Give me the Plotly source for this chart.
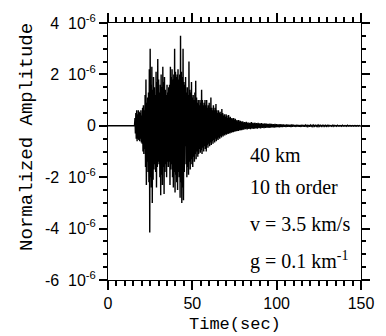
import plotly.graph_objects as go

# Amplitudes in units of 1e-6, sampled every 0.5 s from 16.0 s to 79.5 s
onset_time = 15.7
t_start = 16.0
upper = [0.3,0.5,0.6,0.45,0.6,0.55,0.5,0.6,0.4,0.7,0.8,0.6,1.2,1.8,0.9,1.1,1.3,2.2,3.0,1.6,
         2.3,1.4,1.9,1.5,1.2,2.1,1.7,2.6,1.8,1.3,1.6,2.0,1.5,2.3,1.7,1.9,1.4,1.2,1.6,1.3,
         1.5,1.6,2.3,1.9,2.2,1.8,2.0,3.0,2.1,1.9,2.0,2.2,1.8,2.0,3.5,2.1,1.9,3.0,1.7,1.6,
         1.9,1.3,1.5,1.2,2.5,1.4,1.3,1.7,1.1,1.2,1.0,1.3,1.75,1.1,0.9,1.0,0.8,1.0,0.9,1.4,
         1.0,0.8,0.9,1.0,0.8,1.0,0.7,0.8,0.9,0.7,1.1,0.7,0.6,0.8,0.6,0.7,0.85,0.6,0.5,0.6,
         0.5,0.55,0.45,0.65,0.5,0.4,0.45,0.35,0.45,0.4,0.3,0.42,0.3,0.35,0.28,0.3,0.25,0.3,0.22,0.27,
         0.2,0.22,0.18,0.22,0.17,0.2,0.15,0.18]
lower = [-0.3,-0.5,-0.6,-0.5,-0.55,-0.6,-0.5,-0.65,-0.7,-1.0,-1.1,-0.9,-1.6,-2.3,-1.4,-1.8,-2.2,-4.15,-2.0,-2.4,
         -3.0,-2.1,-1.7,-1.5,-1.8,-2.4,-1.6,-1.4,-1.5,-2.0,-2.7,-1.9,-2.3,-1.6,-2.65,-1.8,-1.5,-2.0,-1.4,-1.6,
         -1.4,-2.3,-1.7,-1.5,-2.0,-2.4,-1.8,-2.6,-1.9,-2.2,-2.5,-1.8,-2.0,-2.8,-2.2,-3.0,-2.4,-2.9,-1.8,-0.8,
         -1.5,-2.0,-1.6,-1.9,-1.4,-1.7,-1.3,-1.5,-1.6,-1.2,-1.4,-1.1,-1.3,-1.0,-1.2,-1.1,-0.9,-1.05,-0.95,-1.1,
         -0.85,-1.0,-0.8,-0.9,-1.0,-0.75,-0.85,-0.7,-0.8,-0.65,-0.75,-0.6,-0.7,-0.55,-0.65,-0.5,-0.6,-0.5,-0.55,-0.45,
         -0.5,-0.4,-0.45,-0.38,-0.42,-0.35,-0.38,-0.32,-0.35,-0.3,-0.32,-0.28,-0.3,-0.26,-0.27,-0.24,-0.25,-0.22,-0.23,-0.2,
         -0.21,-0.19,-0.2,-0.17,-0.18,-0.16,-0.17,-0.15]

# Coda, sampled every 1 s from 80 s to 149 s
tail_start = 80.0
tail_upper = [0.16,0.14,0.15,0.13,0.12,0.14,0.11,0.12,0.10,0.11,
              0.09,0.10,0.08,0.09,0.08,0.07,0.08,0.07,0.06,0.07,
              0.06,0.05,0.06,0.05,0.05,0.04,0.05,0.04,0.04,0.05,
              0.04,0.03,0.04,0.03,0.03,0.04,0.03,0.03,0.02,0.03,
              0.03,0.02,0.03,0.02,0.02,0.03,0.02,0.02,0.02,0.02,
              0.02,0.02,0.01,0.02,0.02,0.01,0.02,0.01,0.01,0.02,
              0.01,0.01,0.02,0.01,0.01,0.01,0.01,0.01,0.01,0.01]
tail_lower = [-0.15,-0.13,-0.14,-0.12,-0.13,-0.11,-0.12,-0.10,-0.11,-0.09,
              -0.10,-0.08,-0.09,-0.08,-0.07,-0.08,-0.07,-0.06,-0.07,-0.06,
              -0.05,-0.06,-0.05,-0.05,-0.04,-0.05,-0.04,-0.04,-0.05,-0.04,
              -0.03,-0.04,-0.03,-0.03,-0.04,-0.03,-0.03,-0.02,-0.03,-0.03,
              -0.02,-0.03,-0.02,-0.02,-0.03,-0.02,-0.02,-0.02,-0.02,-0.02,
              -0.02,-0.01,-0.02,-0.02,-0.01,-0.02,-0.01,-0.01,-0.02,-0.01,
              -0.01,-0.02,-0.01,-0.01,-0.01,-0.01,-0.01,-0.01,-0.01,-0.01]

NB = "\u00a0\u00a0"
ytick_vals = [4, 2, 0, -2, -4, -6]
ytick_text = ["4" + NB + "10<sup>-6</sup>", "2" + NB + "10<sup>-6</sup>", "0",
              "-2" + NB + "10<sup>-6</sup>", "-4" + NB + "10<sup>-6</sup>",
              "-6" + NB + "10<sup>-6</sup>"]
xtick_vals = [0, 50, 100, 150]
labels = ["40 km", "10 th order", "v = 3.5 km/s", "g = 0.1 km<sup>-1</sup>"]
label_y = [-1.12, -2.38, -3.81, -5.23]
x_title = "Time(sec)"
y_title = "Normalized Amplitude"

xs, ys = [0.0, onset_time], [0.0, 0.0]
for i, (u, l) in enumerate(zip(upper, lower)):
    t = t_start + 0.5 * i
    xs += [t, t + 0.25]
    ys += [u, l]
for i, (u, l) in enumerate(zip(tail_upper, tail_lower)):
    t = tail_start + 1.0 * i
    xs += [t, t + 0.5]
    ys += [u, l]
xs.append(150.0)
ys.append(0.0)

fig = go.Figure()
fig.add_trace(go.Scatter(x=xs, y=ys, mode="lines",
                         line=dict(color="black", width=1.4), hoverinfo="skip"))

for txt, yy in zip(labels, label_y):
    fig.add_annotation(x=83.1, y=yy, xref="x", yref="y", text=txt, showarrow=False,
                       xanchor="left", yanchor="middle",
                       font=dict(family="Liberation Serif", size=20, color="black"))

fig.add_annotation(x=-0.323, y=0.558, xref="paper", yref="paper", text=y_title,
                   showarrow=False, textangle=-90, xanchor="center", yanchor="middle",
                   font=dict(family="Liberation Mono", size=19, color="black"))
fig.add_annotation(x=0.5, y=-0.173, xref="paper", yref="paper", text=x_title,
                   showarrow=False, xanchor="center", yanchor="middle",
                   font=dict(family="Liberation Mono", size=17, color="black"))

axis_common = dict(showline=True, linecolor="black", linewidth=1, mirror="ticks",
                   ticks="outside", tickcolor="black", showgrid=False,
                   zeroline=False)

fig.update_xaxes(range=[0, 150], tickvals=xtick_vals, ticklen=9, tickwidth=1.5,
                 minor=dict(dtick=5, ticklen=5, ticks="outside", tickcolor="black",
                            tickwidth=1.5),
                 tickfont=dict(family="Liberation Sans", size=16, color="black"),
                 **axis_common)
fig.update_yaxes(range=[-6, 4], tickvals=ytick_vals, ticktext=ytick_text, ticklen=8, tickwidth=1.5,
                 minor=dict(dtick=0.5, ticklen=4, ticks="outside", tickcolor="black",
                            tickwidth=1.5),
                 tickfont=dict(family="Liberation Sans", size=16, color="black"),
                 **axis_common)

fig.update_layout(width=386, height=336, margin=dict(l=108, r=18, t=20, b=56),
                  paper_bgcolor="white", plot_bgcolor="white", showlegend=False)

fig.write_html("out.html")
